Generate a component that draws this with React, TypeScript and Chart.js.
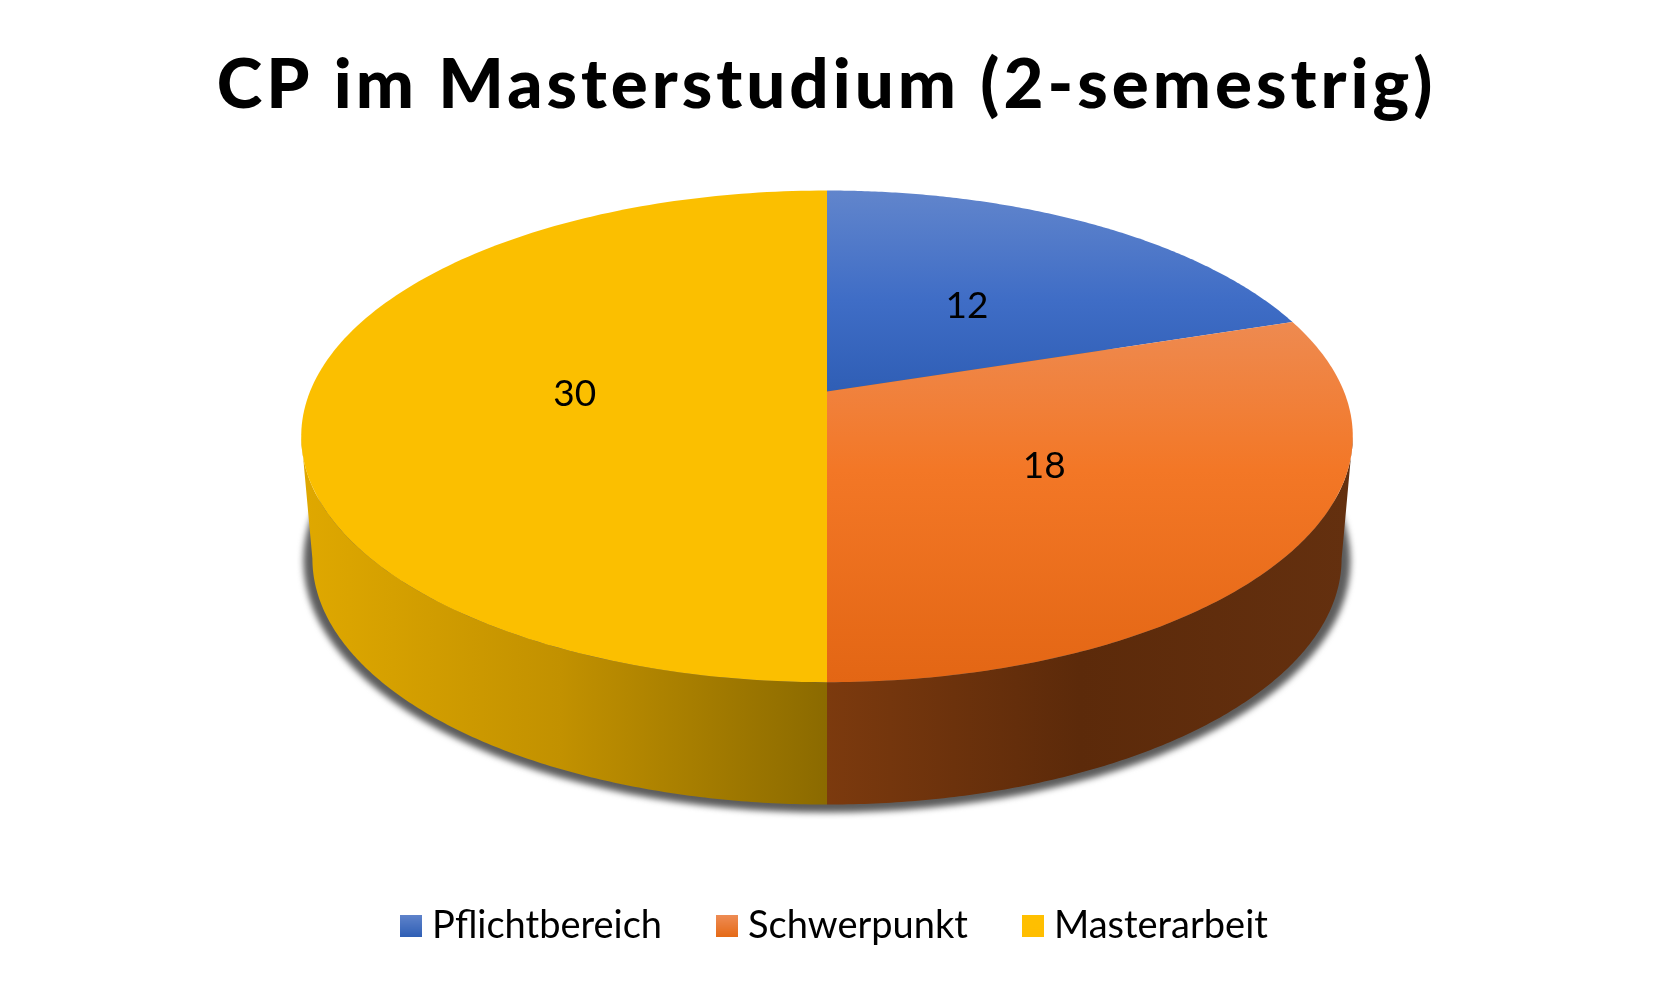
import React, { useEffect, useRef } from "react";
import { Chart, registerables } from "chart.js";

Chart.register(...registerables);

const chartTitle = "CP im Masterstudium (2-semestrig)";
const categories = ["Pflichtbereich", "Schwerpunkt", "Masterarbeit"];
const cpValues = [12, 18, 30];
const baseColors = ["#4472C4", "#ED7D31", "#FFC000"];
const topGradients = [
  [[191, "#6185CC"], [300, "#3F6DC6"], [392, "#2F5EB5"]],
  [[323, "#EE8A50"], [470, "#F37726"], [682, "#E36614"]],
  [[191, "#FBBF00"], [682, "#FBBF00"]],
];
const wallGradients = [
  [[827, "#2F5EB5"], [1350, "#2F5EB5"]],
  [[827, "#7C3A0E"], [1080, "#5C2A0A"], [1350, "#64300F"]],
  [[305, "#DFA800"], [560, "#C29100"], [827, "#8B6A00"]],
];
const legendSwatches = [
  ["#5F83CB", "#2F5FB5"],
  ["#EE8C55", "#E56A16"],
  ["#FFC000", "#FFBE00"],
];

const K = 0.182;
const top3d = { cx: 827, y0: 391.6, A: 517, B: 237.7 };
const bottom3d = { cx: 827, y0: 514, A: 506, B: 237.7 };

function project(p: any, theta: number, f = 1) {
  const u = Math.sin(theta) * f;
  const v = -Math.cos(theta) * f;
  const w = 1 - K * v;
  return { x: p.cx + (p.A * u) / w, y: p.y0 + (p.B * v) / w };
}

function ellipseOf(p: any) {
  const denom = 1 - K * K;
  return {
    cx: p.cx,
    cy: p.y0 + (p.B * K) / denom,
    rx: p.A / Math.sqrt(denom),
    ry: p.B / denom,
  };
}

function linear(ctx: any, horizontal: boolean, stops: any[]) {
  const a = stops[0][0];
  const b = stops[stops.length - 1][0];
  const g = horizontal
    ? ctx.createLinearGradient(a, 0, b, 0)
    : ctx.createLinearGradient(0, a, 0, b);
  stops.forEach((s) => g.addColorStop((s[0] - a) / (b - a), s[1]));
  return g;
}

const pie3d = {
  id: "pie3d",
  afterUpdate(chart: any) {
    const t = chart.titleBlock;
    if (t && !t.__spaced) {
      const d = t.draw.bind(t);
      t.draw = () => {
        chart.ctx.letterSpacing = "4px";
        d();
        chart.ctx.letterSpacing = "0px";
      };
      t.__spaced = true;
    }
    if (t) {
      t.left -= 3;
      t.right -= 3;
    }
    if (chart.legend) {
      chart.legend.left += 9;
      chart.legend.right += 9;
    }
  },
  beforeDatasetDraw(chart: any) {
    const ctx = chart.ctx;
    const arcs = chart.getDatasetMeta(0).data;
    const seg = 160;
    const thetaA = Math.acos(-K);

    // soft shadow beneath the disc
    const e = ellipseOf(bottom3d);
    ctx.save();
    ctx.filter = "blur(3px)";
    ctx.fillStyle = "#5c5c5c";
    ctx.beginPath();
    ctx.ellipse(e.cx, e.cy + 2, e.rx + 9, e.ry + 6, 0, 0, Math.PI * 2);
    ctx.fill();
    ctx.restore();

    // side walls
    arcs.forEach((arc: any, i: number) => {
      const a = Math.max(arc.startAngle + Math.PI / 2, thetaA);
      const b = Math.min(arc.endAngle + Math.PI / 2, Math.PI * 2 - thetaA);
      if (b <= a) return;
      ctx.beginPath();
      for (let s = 0; s <= seg; s++) {
        const pt = project(top3d, a + ((b - a) * s) / seg);
        s ? ctx.lineTo(pt.x, pt.y) : ctx.moveTo(pt.x, pt.y);
      }
      for (let s = seg; s >= 0; s--) {
        const pt = project(bottom3d, a + ((b - a) * s) / seg);
        ctx.lineTo(pt.x, pt.y);
      }
      ctx.closePath();
      ctx.fillStyle = linear(ctx, true, wallGradients[i]);
      ctx.fill();
    });

    // top faces
    arcs.forEach((arc: any, i: number) => {
      const a = arc.startAngle + Math.PI / 2;
      const b = arc.endAngle + Math.PI / 2;
      ctx.beginPath();
      ctx.moveTo(top3d.cx, top3d.y0);
      for (let s = 0; s <= seg; s++) {
        const pt = project(top3d, a + ((b - a) * s) / seg);
        ctx.lineTo(pt.x, pt.y);
      }
      ctx.closePath();
      ctx.fillStyle = linear(ctx, false, topGradients[i]);
      ctx.fill();
    });
    return false;
  },
  afterDatasetsDraw(chart: any) {
    const ctx = chart.ctx;
    const arcs = chart.getDatasetMeta(0).data;
    ctx.save();
    ctx.font = "37px Lato";
    ctx.fillStyle = "#000";
    ctx.textAlign = "center";
    ctx.textBaseline = "middle";
    arcs.forEach((arc: any, i: number) => {
      const mid = (arc.startAngle + arc.endAngle) / 2 + Math.PI / 2;
      const pt = project(top3d, mid, 0.49);
      ctx.fillText(String(cpValues[i]), pt.x + 1, pt.y + 2.5);
    });
    ctx.restore();
  },
};

function swatch(colors: string[]) {
  const c = document.createElement("canvas");
  c.width = 22;
  c.height = 22;
  const x = c.getContext("2d") as CanvasRenderingContext2D;
  const g = x.createLinearGradient(0, 0, 0, 22);
  g.addColorStop(0, colors[0]);
  g.addColorStop(1, colors[1]);
  x.fillStyle = g;
  x.fillRect(0, 0, 22, 22);
  return c;
}

export default function App() {
  const ref = useRef<HTMLCanvasElement>(null);
  useEffect(() => {
    document.body.style.margin = "0";
    document.body.style.background = "#fff";
    const chart = new Chart(ref.current as HTMLCanvasElement, {
      type: "pie",
      data: {
        labels: categories,
        datasets: [{ data: cpValues, backgroundColor: baseColors, borderWidth: 0 }],
      },
      plugins: [pie3d as any],
      options: {
        animation: false,
        responsive: false,
        layout: { padding: { bottom: 44 } },
        plugins: {
          tooltip: { enabled: false },
          title: {
            display: true,
            text: chartTitle,
            color: "#000",
            font: { family: "Lato", size: 69, weight: "900", lineHeight: 1.2 },
            padding: { top: 44, bottom: 10 },
          },
          legend: {
            position: "bottom",
            labels: {
              color: "#000",
              font: { family: "Lato", size: 38 },
              usePointStyle: true,
              pointStyleWidth: 4,
              padding: 63,
              generateLabels: () =>
                categories.map((text, i) => ({
                  text,
                  index: i,
                  datasetIndex: 0,
                  pointStyle: swatch(legendSwatches[i]),
                  fillStyle: baseColors[i],
                  strokeStyle: baseColors[i],
                  lineWidth: 0,
                  hidden: false,
                  fontColor: "#000",
                })),
            },
          },
        },
      } as any,
    });
    return () => chart.destroy();
  }, []);
  return <canvas ref={ref} width={1659} height={999} style={{ display: "block" }} />;
}
